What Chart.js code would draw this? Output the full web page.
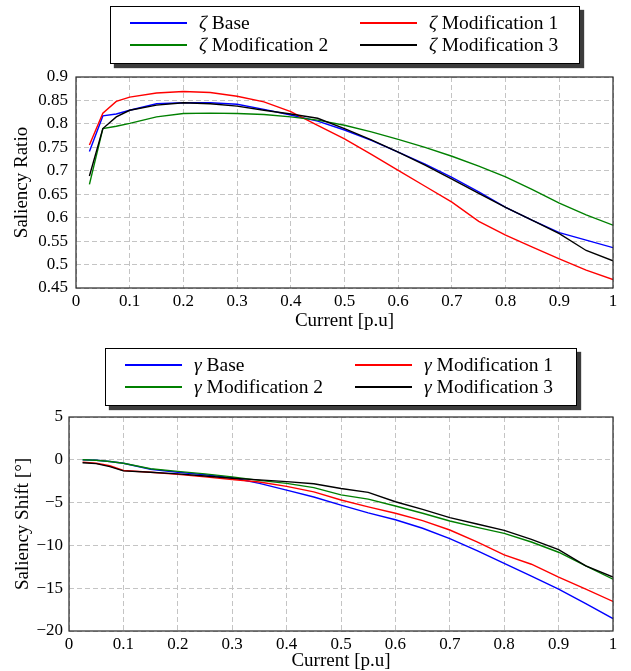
<!DOCTYPE html>
<html lang="en">
<head>
<meta charset="UTF-8">
<title>Saliency Ratio and Saliency Shift</title>
<script src="https://cdn.jsdelivr.net/npm/chart.js"></script>
<style>
  body { margin: 0; background: #fff; font-family: "Liberation Serif", "DejaVu Serif", serif; }
  #page { position: relative; width: 631px; height: 671px; overflow: hidden; }
  canvas { position: absolute; left: 0; }
  .legend { position: absolute; background: #fff; border: 1px solid #000; box-shadow: 4px 4px 1px #3c3c3c; font-size: 19.5px; }
  .entry { position: absolute; height: 20px; line-height: 20px; white-space: nowrap; }
  .entry .swatch { position: absolute; left: 0; top: 9px; width: 57px; height: 2px; }
  .entry .text { position: absolute; left: 69px; top: 0; }
</style>
</head>
<body>
<div id="page">
  <canvas id="ratioChart" width="631" height="336" style="top:0"></canvas>
  <canvas id="shiftChart" width="631" height="335" style="top:336px"></canvas>
  <div id="ratioLegend" class="legend" style="left:110px; top:6px; width:468px; height:56px"></div>
  <div id="shiftLegend" class="legend" style="left:105px; top:348px; width:470px; height:56px"></div>
</div>
<script>
// x values (current, p.u.) shared by every curve
var current = [0.025, 0.05, 0.075, 0.1, 0.15, 0.2, 0.25, 0.3, 0.35, 0.4, 0.45,
               0.5, 0.55, 0.6, 0.65, 0.7, 0.75, 0.8, 0.85, 0.9, 0.95, 1.0];

var seriesNames = ['Base', 'Modification 1', 'Modification 2', 'Modification 3'];

// saliency ratio (zeta)
var ratioBase = [0.741, 0.817, 0.821, 0.829, 0.843, 0.845, 0.845, 0.842, 0.831, 0.819, 0.806,
                 0.787, 0.765, 0.740, 0.714, 0.686, 0.655, 0.622, 0.594, 0.568, 0.552, 0.536];
var ratioMod1 = [0.755, 0.823, 0.848, 0.857, 0.866, 0.869, 0.867, 0.859, 0.847, 0.826, 0.797,
                 0.768, 0.735, 0.701, 0.667, 0.633, 0.592, 0.563, 0.537, 0.512, 0.488, 0.468];
var ratioMod2 = [0.671, 0.790, 0.795, 0.801, 0.815, 0.822, 0.823, 0.822, 0.820, 0.815, 0.808,
                 0.797, 0.783, 0.767, 0.750, 0.731, 0.710, 0.687, 0.660, 0.631, 0.606, 0.584];
var ratioMod3 = [0.689, 0.790, 0.815, 0.829, 0.840, 0.845, 0.843, 0.838, 0.829, 0.821, 0.812,
                 0.790, 0.766, 0.740, 0.712, 0.682, 0.652, 0.622, 0.594, 0.566, 0.530, 0.508];

// saliency shift (gamma), degrees
var shiftBase = [0, -0.05, -0.2, -0.4, -1.1, -1.45, -1.75, -2.1, -2.75, -3.55, -4.35,
                 -5.3, -6.2, -7.0, -8.0, -9.2, -10.6, -12.1, -13.6, -15.1, -16.8, -18.55];
var shiftMod1 = [-0.27, -0.4, -0.7, -1.25, -1.45, -1.7, -2.0, -2.3, -2.6, -3.1, -3.75,
                 -4.7, -5.5, -6.25, -7.1, -8.2, -9.6, -11.1, -12.2, -13.7, -15.1, -16.55];
var shiftMod2 = [0, -0.05, -0.2, -0.4, -1.05, -1.35, -1.65, -2.0, -2.4, -2.75, -3.25,
                 -4.1, -4.6, -5.4, -6.25, -7.15, -7.9, -8.6, -9.6, -10.8, -12.4, -13.95];
var shiftMod3 = [-0.35, -0.45, -0.8, -1.3, -1.45, -1.65, -1.9, -2.15, -2.35, -2.55, -2.8,
                 -3.35, -3.8, -4.9, -5.8, -6.75, -7.5, -8.25, -9.3, -10.5, -12.4, -13.7];

var xTicks = { min: 0, max: 1, step: 0.1 };
var ratioTicks = { min: 0.45, max: 0.9, step: 0.05 };
var shiftTicks = { min: -20, max: 5, step: 5 };

var colors = ['#0000ff', '#ff0000', '#008000', '#000000'];
var fontFamily = '"Liberation Serif", "DejaVu Serif", serif';

// black frame round the plot area, drawn over the curves
var framePlugin = {
    id: 'frame',
    afterDatasetsDraw: function(chart) {
        var a = chart.chartArea, ctx = chart.ctx;
        ctx.save();
        ctx.strokeStyle = '#262626';
        ctx.lineWidth = 1.2;
        ctx.strokeRect(a.left, a.top, a.right - a.left, a.bottom - a.top);
        ctx.restore();
    }
};

function toPoints(ys) {
    return ys.map(function(y, i) { return { x: current[i], y: y }; });
}

function minusSign(v) {
    return v < 0 ? '\u2212' + Math.abs(v) : String(v);
}

function makeChart(id, symbol, series, yTicks, yTitle, box) {
    var datasets = series.map(function(ys, i) {
        return {
            label: symbol + ' ' + seriesNames[i],
            data: toPoints(ys),
            borderColor: colors[i],
            borderWidth: 1.4,
            pointRadius: 0,
            fill: false,
            tension: 0,
            order: series.length - i
        };
    });
    var grid = { color: '#c4c4c4', lineWidth: 1, drawTicks: false };
    return new Chart(document.getElementById(id), {
        type: 'line',
        data: { datasets: datasets },
        options: {
            responsive: false,
            animation: false,
            layout: { padding: { top: box.top, right: 18, left: 0, bottom: 0 } },
            plugins: { legend: { display: false }, tooltip: { enabled: false } },
            scales: {
                x: {
                    type: 'linear',
                    min: xTicks.min, max: xTicks.max,
                    grid: grid,
                    border: { display: false, dash: [5, 3] },
                    ticks: {
                        stepSize: xTicks.step, autoSkip: false, maxRotation: 0,
                        color: '#000', padding: 3,
                        font: { family: fontFamily, size: 17 },
                        callback: function(v) { return String(Number(v.toFixed(1))); }
                    },
                    title: {
                        display: true, text: 'Current [p.u]', color: '#000',
                        font: { family: fontFamily, size: 19, lineHeight: 1 },
                        padding: { top: 0, bottom: box.xTitlePad }
                    },
                    afterFit: function(s) { s.height = box.xHeight; }
                },
                y: {
                    type: 'linear',
                    min: yTicks.min, max: yTicks.max,
                    grid: grid,
                    border: { display: false, dash: [5, 3] },
                    ticks: {
                        stepSize: yTicks.step, autoSkip: false,
                        color: '#000', padding: box.yTickPad,
                        font: { family: fontFamily, size: 17 },
                        callback: function(v) { return minusSign(Number(v.toFixed(2))); }
                    },
                    title: {
                        display: true, text: yTitle, color: '#000',
                        font: { family: fontFamily, size: 19, lineHeight: 1 },
                        padding: { top: box.yTitlePad, bottom: 0 }
                    },
                    afterFit: function(s) { s.width = box.yWidth; }
                }
            }
        },
        plugins: [framePlugin]
    });
}

function buildLegend(elId, chart, symbol) {
    var el = document.getElementById(elId);
    chart.data.datasets.forEach(function(ds, i) {
        var col = i % 2, row = Math.floor(i / 2);
        var entry = document.createElement('div');
        entry.className = 'entry';
        entry.style.left = (19 + col * 230) + 'px';
        entry.style.top = (6 + row * 22) + 'px';
        var sw = document.createElement('div');
        sw.className = 'swatch';
        sw.style.background = colors[i];
        var tx = document.createElement('span');
        tx.className = 'text';
        tx.innerHTML = '<i>' + symbol + '</i> ' + seriesNames[i];
        entry.appendChild(sw);
        entry.appendChild(tx);
        el.appendChild(entry);
    });
}

var ratioChart = makeChart('ratioChart', '\u03b6',
    [ratioBase, ratioMod1, ratioMod2, ratioMod3], ratioTicks, 'Saliency Ratio',
    { top: 77, xHeight: 48, yWidth: 76, xTitlePad: 5, yTitlePad: 13, yTickPad: 8 });

var shiftChart = makeChart('shiftChart', '\u03b3',
    [shiftBase, shiftMod1, shiftMod2, shiftMod3], shiftTicks, 'Saliency Shift [\u00b0]',
    { top: 81, xHeight: 40, yWidth: 69, xTitlePad: 0, yTitlePad: 14, yTickPad: 6 });

buildLegend('ratioLegend', ratioChart, '\u03b6');
buildLegend('shiftLegend', shiftChart, '\u03b3');
</script>
</body>
</html>
